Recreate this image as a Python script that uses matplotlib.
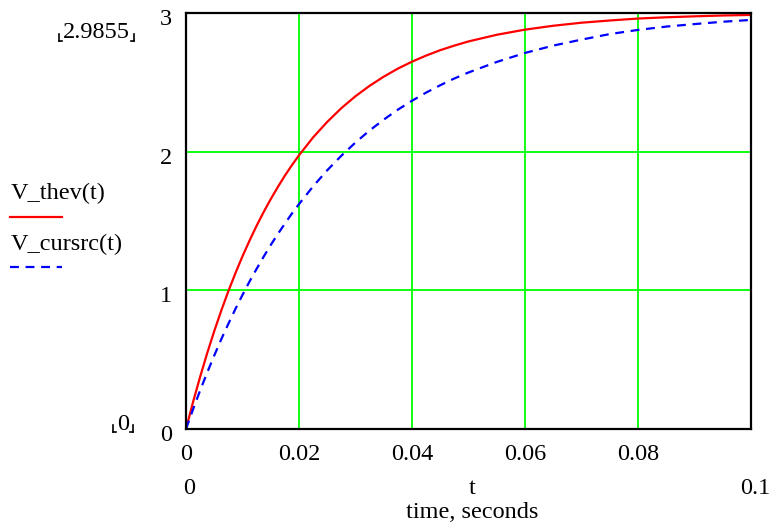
import matplotlib.pyplot as plt
from matplotlib.lines import Line2D
from matplotlib.transforms import ScaledTranslation

plt.rcParams["font.family"] = ["Liberation Serif", "DejaVu Serif"]

# values
t = [0, 0.00125, 0.0025, 0.00375, 0.005, 0.00625, 0.0075, 0.00875, 0.01,
     0.01125, 0.0125, 0.01375, 0.015, 0.01625, 0.0175, 0.01875, 0.02,
     0.0225, 0.025, 0.0275, 0.03, 0.0325, 0.035, 0.0375, 0.04, 0.0425,
     0.045, 0.0475, 0.05, 0.055, 0.06, 0.065, 0.07, 0.075, 0.08, 0.085,
     0.09, 0.095, 0.1]
v_thev = [0, 0.195, 0.376, 0.547, 0.706, 0.855, 0.994, 1.124, 1.246,
          1.359, 1.466, 1.565, 1.658, 1.745, 1.827, 1.903, 1.974,
          2.103, 2.215, 2.314, 2.400, 2.475, 2.541, 2.599, 2.649, 2.693,
          2.732, 2.765, 2.795, 2.843, 2.880, 2.908, 2.930, 2.946, 2.960, 2.969,
          2.976, 2.982, 2.986]
v_cursrc = [0, 0.142, 0.278, 0.407, 0.530, 0.648, 0.759, 0.866, 0.967,
            1.064, 1.155, 1.243, 1.327, 1.406, 1.481, 1.554, 1.622,
            1.750, 1.866, 1.971, 2.066, 2.153, 2.231, 2.303, 2.367, 2.426,
            2.479, 2.528, 2.571, 2.647, 2.712, 2.765, 2.808, 2.848, 2.878, 2.902,
            2.920, 2.937, 2.950]

x_ticks = [0, 0.02, 0.04, 0.06, 0.08]
x_tick_labels = ["0", "0.02", "0.04", "0.06", "0.08"]
y_ticks = [0, 1, 2, 3]

fs = 17.5

fig = plt.figure(figsize=(7.7, 5.28), dpi=100)
ax = fig.add_axes([186 / 770, 1 - 429 / 528, 565 / 770, 416 / 528])

ax.plot(t, v_thev, color="#ff0000", lw=1.6, zorder=3)
ax.plot(t, v_cursrc, color="#0000ff", lw=1.6, ls=(0, (4, 3)), zorder=3)

ax.set_xlim(0, 0.1)
ax.set_ylim(0, 3)
ax.set_xticks(x_ticks)
ax.set_xticklabels(x_tick_labels)
ax.set_yticks(y_ticks)
ax.tick_params(length=0, labelsize=fs)
ax.tick_params(axis="x", pad=11)
ax.tick_params(axis="y", pad=10)
ax.grid(True, color="#00ff00", lw=1.3, zorder=1)
for s in ax.spines.values():
    s.set_linewidth(1.6)
    s.set_zorder(4)

# Mathcad puts the number a bit lower than the tick
off = ScaledTranslation(0, -4 / 100, fig.dpi_scale_trans)
for lab in ax.get_yticklabels():
    lab.set_transform(lab.get_transform() + off)

def fx(px):
    return px / 770

def fy(py):
    return 1 - py / 528

# second row of x labels and axis title
fig.text(fx(189), fy(489), "0", fontsize=fs, ha="center", va="center")
fig.text(fx(472), fy(489), "t", fontsize=fs, ha="center", va="center")
fig.text(fx(755), fy(489), "0.1", fontsize=fs, ha="center", va="center")
fig.text(fx(472), fy(512), "time, seconds", fontsize=fs, ha="center", va="center")

# y range labels with corner brackets
fig.text(fx(96), fy(32), "2.9855", fontsize=fs, ha="center", va="center")
fig.text(fx(123), fy(424), "0", fontsize=fs, ha="center", va="center")

def corner_marks(x0, x1, yb, h=7):
    for xa, xb in [(x0, x0 + 3), (x1, x1 - 3)]:
        fig.add_artist(Line2D([fx(xa), fx(xa)], [fy(yb - h), fy(yb)], color="k", lw=1.2,
                              transform=fig.transFigure))
        fig.add_artist(Line2D([fx(xa), fx(xb)], [fy(yb), fy(yb)], color="k", lw=1.2,
                              transform=fig.transFigure))

corner_marks(59, 134, 41)
corner_marks(113, 133, 432)

# legend in Mathcad style
fig.text(fx(11), fy(193), "V_thev(t)", fontsize=fs, ha="left", va="center")
fig.add_artist(Line2D([fx(10), fx(62)], [fy(217), fy(217)], color="#ff0000", lw=1.6,
                      transform=fig.transFigure))
fig.text(fx(11), fy(244), "V_cursrc(t)", fontsize=fs, ha="left", va="center")
fig.add_artist(Line2D([fx(10), fx(62)], [fy(267), fy(267)], color="#0000ff", lw=1.6,
                      ls=(0, (4, 3)), transform=fig.transFigure))

fig.savefig("out.png", dpi=100)
